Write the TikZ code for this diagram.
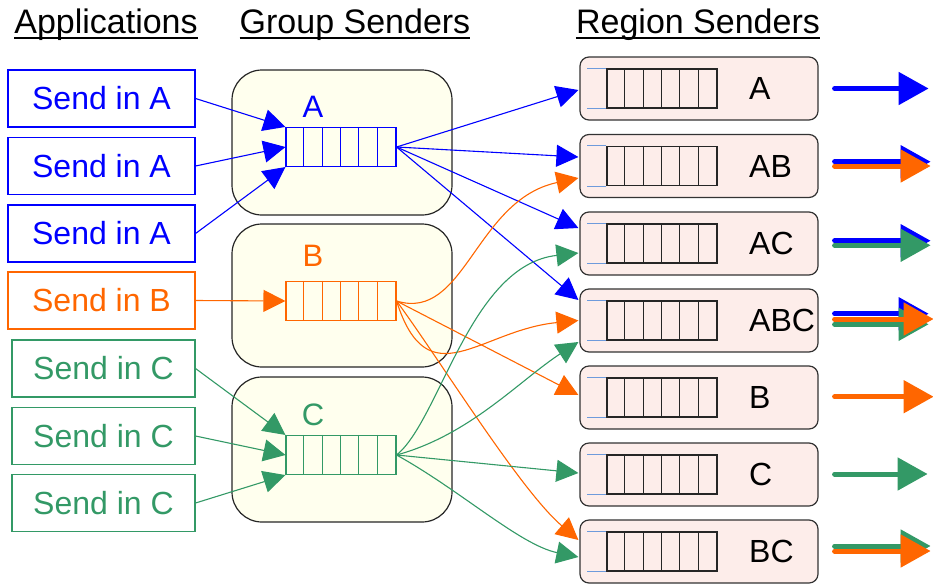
\documentclass[tikz,border=0pt]{standalone}
\usepackage{fontspec}
\setmainfont{Liberation Sans}
\usetikzlibrary{arrows.meta,calc}
\definecolor{cblue}{HTML}{0000FF}
\definecolor{corange}{HTML}{FF6600}
\definecolor{cgreen}{HTML}{339966}
\definecolor{gfill}{HTML}{FFFFEE}
\definecolor{rfill}{HTML}{FDEDEA}
\definecolor{qstub}{HTML}{6E9BDC}
\begin{document}
\begin{tikzpicture}[x=1pt,y=-1pt,
  hdr/.style={font=\fontsize{34}{40}\selectfont, inner sep=0, anchor=base},
  app/.style={draw, line width=1.1pt, minimum height=57pt, inner sep=0, font=\fontsize{32}{38}\selectfont},
  grp/.style={draw=black!85, line width=1.2pt, fill=gfill, rounded corners=30pt, minimum width=220pt, inner sep=0},
  gq/.style={draw, line width=1.1pt, minimum width=110pt, minimum height=39pt, inner sep=0},
  glab/.style={font=\fontsize{31}{36}\selectfont, inner sep=0},
  reg/.style={draw=black!80, line width=1.2pt, fill=rfill, rounded corners=9pt, minimum width=238pt, minimum height=63pt, inner sep=0},
  rq/.style={draw=black!85, line width=1.1pt, minimum width=110pt, minimum height=39pt, inner sep=0},
  rlab/.style={font=\fontsize{32}{38}\selectfont, inner sep=0, anchor=west},
  conn/.style={line width=1.1pt, -{Triangle[length=22pt,width=22pt]}},
  outarr/.style={line width=5pt, line cap=round, -{Triangle[length=30pt,width=32pt]}}
]
\useasboundingbox (0,0) rectangle (933,584);

% headers
\node[hdr] (h1) at (106,33) {Applications};
\node[hdr] (h2) at (355,33) {Group Senders};
\node[hdr] (h3) at (698,33) {Region Senders};
\foreach \h in {h1,h2,h3}
  \draw[line width=2pt] ($(\h.base west)+(0,5)$) -- ($(\h.base east)+(0,5)$);

% applications
\node[app, draw=cblue, text=cblue, minimum width=187pt] (a1) at (101.5,98.5) {Send in A};
\node[app, draw=cblue, text=cblue, minimum width=187pt] (a2) at (101.5,166) {Send in A};
\node[app, draw=cblue, text=cblue, minimum width=187pt] (a3) at (101.5,233.5) {Send in A};
\node[app, draw=corange, text=corange, minimum width=187pt] (b1) at (101.5,300.5) {Send in B};
\node[app, draw=cgreen, text=cgreen, minimum width=183pt] (c1) at (103.5,368.5) {Send in C};
\node[app, draw=cgreen, text=cgreen, minimum width=183pt] (c2) at (103.5,436) {Send in C};
\node[app, draw=cgreen, text=cgreen, minimum width=183pt] (c3) at (103.5,503) {Send in C};

% group senders
\node[grp, minimum height=145pt] (gA) at (342,142.5) {};
\node[grp, minimum height=143pt] (gB) at (342,295.5) {};
\node[grp, minimum height=145pt] (gC) at (342,449.5) {};
\node[gq, draw=cblue] (qA) at (341,147) {};
\node[gq, draw=corange] (qB) at (341,301) {};
\node[gq, draw=cgreen] (qC) at (341,455) {};
\foreach \q/\c in {qA/cblue, qB/corange, qC/cgreen}
  \foreach \i in {1,...,5}
    \draw[\c, line width=1.1pt] ($(\q.north west)+(\i*18.333,0)$) -- ($(\q.south west)+(\i*18.333,0)$);
\node[glab, text=cblue] (lA) at (313,107) {A};
\node[glab, text=corange] (lB) at (313,256) {B};
\node[glab, text=cgreen] (lC) at (313,415) {C};

% region senders
\foreach \n/\y in {A/88.5, AB/166, AC/243.5, ABC/320.5, B/397.5, C/474.5, BC/551.5} {
  \node[reg] (r\n) at (699,\y) {};
  \node[rq] (rq\n) at (662,\y) {};
  \foreach \i in {1,...,5}
    \draw[black!85, line width=1.1pt] ($(rq\n.north west)+(\i*18.333,0)$) -- ($(rq\n.south west)+(\i*18.333,0)$);
  \draw[qstub, line width=1pt] (rq\n.north west) -- ++(-19,0);
  \draw[qstub, line width=1pt] (rq\n.south west) -- ++(-19,0);
  \node[rlab] (l\n) at (749,\y) {\n};
}

% applications to group queues
\draw[conn, cblue] (a1.east) -- (qA.north west);
\draw[conn, cblue] (a2.east) -- (qA.west);
\draw[conn, cblue] (a3.east) -- (qA.south west);
\draw[conn, corange] (b1.east) -- (qB.west);
\draw[conn, cgreen] (c1.east) -- (qC.north west);
\draw[conn, cgreen] (c2.east) -- (qC.west);
\draw[conn, cgreen] (c3.east) -- (qC.south west);

% group A to regions
\draw[conn, cblue] (qA.east) -- ($(rA.west)+(-1,1.5)$);
\draw[conn, cblue] (qA.east) -- ($(rAB.west)+(-1,-9)$);
\draw[conn, cblue] (qA.east) -- ($(rAC.west)+(-1,-15.5)$);
\draw[conn, cblue] (qA.east) -- ($(rABC.west)+(-1,-20.5)$);

% group B to regions
\draw[conn, corange] (qB.east) .. controls (465,322) and (475,200) .. ($(rAB.west)+(-1,12)$);
\draw[conn, corange] (qB.east) .. controls (428,400) and (480,330) .. ($(rABC.west)+(-1,0)$);
\draw[conn, corange] (qB.east) -- ($(rB.west)+(-1,-2.5)$);
\draw[conn, corange] (qB.east) .. controls (440,360) and (520,490) .. ($(rBC.west)+(-1,-11.5)$);

% group C to regions
\draw[conn, cgreen] (qC.east) .. controls (440,420) and (470,265) .. ($(rAC.west)+(-1,9.5)$);
\draw[conn, cgreen] (qC.east) .. controls (470,435) and (520,380) .. ($(rABC.west)+(-1,21.5)$);
\draw[conn, cgreen] (qC.east) -- ($(rC.west)+(-1,-1.5)$);
\draw[conn, cgreen] (qC.east) .. controls (460,490) and (520,545) .. ($(rBC.west)+(-1,5.5)$);

% output arrows
\draw[outarr, cblue] ($(rA.east)+(16,0)$) -- ($(rA.east)+(110,0)$);

\draw[outarr, cblue] ($(rAB.east)+(16,-4.3)$) -- ($(rAB.east)+(112,-4.3)$);
\draw[outarr, corange] ($(rAB.east)+(16,0)$) -- ($(rAB.east)+(112,0)$);

\draw[outarr, cblue] ($(rAC.east)+(16,-2.8)$) -- ($(rAC.east)+(112,-2.8)$);
\draw[outarr, cgreen] ($(rAC.east)+(16,1.8)$) -- ($(rAC.east)+(112,1.8)$);

\draw[outarr, cblue] ($(rABC.east)+(16,-6.8)$) -- ($(rABC.east)+(110,-6.8)$);
\draw[outarr, cgreen] ($(rABC.east)+(16,3.8)$) -- ($(rABC.east)+(110,3.8)$);
\draw[outarr, corange] ($(rABC.east)+(16,-1.5)$) -- ($(rABC.east)+(115,-1.5)$);

\draw[outarr, corange] ($(rB.east)+(16,-0.8)$) -- ($(rB.east)+(115,-0.8)$);

\draw[outarr, cgreen] ($(rC.east)+(16,-0.5)$) -- ($(rC.east)+(109,-0.5)$);

\draw[outarr, cgreen] ($(rBC.east)+(16,-5.5)$) -- ($(rBC.east)+(112,-5.5)$);
\draw[outarr, corange] ($(rBC.east)+(16,-0.5)$) -- ($(rBC.east)+(112,-0.5)$);
\end{tikzpicture}
\end{document}
